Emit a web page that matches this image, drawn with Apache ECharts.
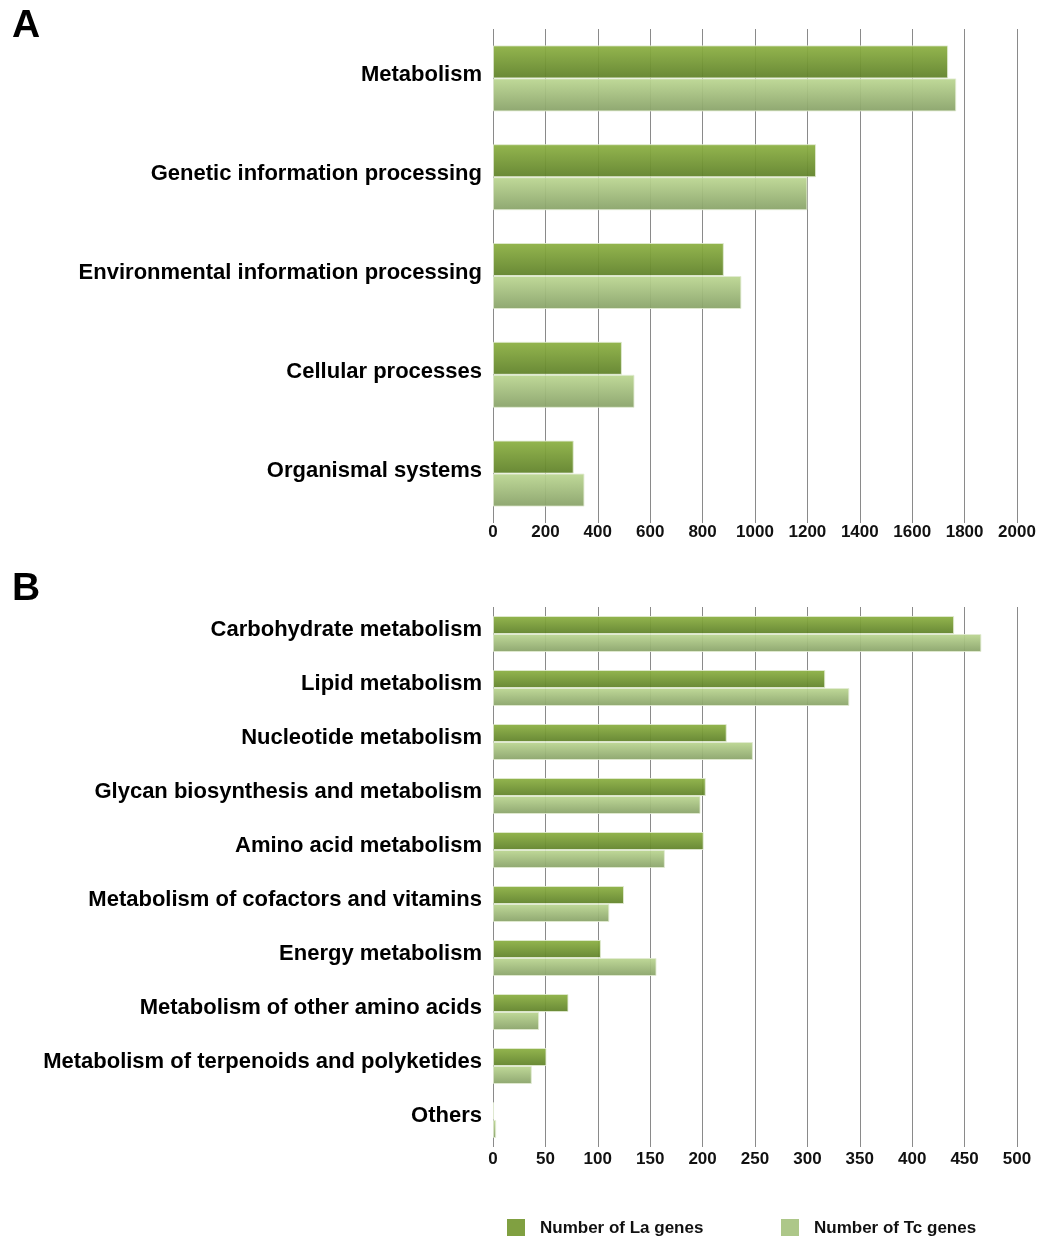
<!DOCTYPE html>
<html>
<head>
<meta charset="utf-8">
<script src="https://cdn.jsdelivr.net/npm/echarts@6/dist/echarts.min.js"></script>
<style>
  html, body { margin: 0; padding: 0; background: #fff; }
  #chart { width: 1053px; height: 1236px; }
</style>
</head>
<body>
<div id="chart"></div>
<script>
// panel A: KEGG top level
const catA = ['Metabolism', 'Genetic information processing', 'Environmental information processing',
    'Cellular processes', 'Organismal systems'];
const laA = [1737, 1233, 881, 492, 308];
const tcA = [1768, 1200, 948, 540, 349];
const ticksA = { min: 0, max: 2000, interval: 200 };

// panel B: metabolism breakdown
const catB = ['Carbohydrate metabolism', 'Lipid metabolism', 'Nucleotide metabolism',
    'Glycan biosynthesis and metabolism', 'Amino acid metabolism', 'Metabolism of cofactors and vitamins',
    'Energy metabolism', 'Metabolism of other amino acids', 'Metabolism of terpenoids and polyketides', 'Others'];
const laB = [440, 317, 223, 203, 201, 125, 103, 72, 51, 1];
const tcB = [466, 340, 248, 198, 164, 111, 156, 44, 37, 3];
const ticksB = { min: 0, max: 500, interval: 50 };

const LA = 'Number of La genes';
const TC = 'Number of Tc genes';
const FONT = 'Liberation Sans, Arial, Helvetica, sans-serif';

const grad = (top, bottom) => new echarts.graphic.LinearGradient(0, 0, 0, 1, [
    { offset: 0, color: top },
    { offset: 1, color: bottom }
]);

const laStyle = {
    color: grad('#8db143', '#5f8129'),
    borderColor: 'rgba(225,235,210,0.9)',
    borderWidth: 1,
    opacity: 0.94
};
const tcStyle = {
    color: grad('#bcd792', '#88a268'),
    borderColor: 'rgba(225,235,210,0.9)',
    borderWidth: 1,
    opacity: 0.94
};

const xAxisOpt = (idx, ticks, margin) => ({
    type: 'value',
    gridIndex: idx,
    min: ticks.min,
    max: ticks.max,
    interval: ticks.interval,
    axisLine: { show: false },
    axisTick: { show: false },
    axisLabel: {
        margin: margin,
        color: '#111',
        fontSize: 17,
        fontWeight: 'bold',
        fontFamily: FONT,
        formatter: (v) => String(v)
    },
    splitLine: { show: true, lineStyle: { color: '#8a8a8a', width: 1 } }
});

// labels sit a few px above the bar pair centre in the original,
// so an empty second line of height 2*lift pushes them up
const yAxisOpt = (idx, cats, lift) => ({
    type: 'category',
    gridIndex: idx,
    data: cats,
    inverse: true,
    axisLine: { show: false },
    axisTick: { show: false },
    axisLabel: {
        margin: 11,
        formatter: (v) => '{t|' + v + '}\n{s|}',
        rich: {
            t: { color: '#000', fontSize: 22, fontWeight: 'bold', fontFamily: FONT, lineHeight: 24 },
            s: { lineHeight: lift * 2, height: lift * 2, fontSize: 1 }
        }
    }
});

const chart = echarts.init(document.getElementById('chart'));
chart.setOption({
    animation: false,
    backgroundColor: '#fff',
    graphic: [
        { type: 'text', x: 12, y: 26, style: { text: 'A', font: 'bold 39px ' + FONT, fill: '#000', verticalAlign: 'middle' } },
        { type: 'text', x: 12, y: 589, style: { text: 'B', font: 'bold 39px ' + FONT, fill: '#000', verticalAlign: 'middle' } }
    ],
    legend: [
        {
            data: [{ name: LA, itemStyle: { color: '#789a35', borderWidth: 0 } }],
            left: 507, top: 1219, padding: 0,
            itemWidth: 18, itemHeight: 18, icon: 'rect',
            textStyle: { fontSize: 17, fontWeight: 'bold', color: '#111', fontFamily: FONT, padding: [0, 0, 0, 10] }
        },
        {
            data: [{ name: TC, itemStyle: { color: '#a8c482', borderWidth: 0 } }],
            left: 781, top: 1219, padding: 0,
            itemWidth: 18, itemHeight: 18, icon: 'rect',
            textStyle: { fontSize: 17, fontWeight: 'bold', color: '#111', fontFamily: FONT, padding: [0, 0, 0, 10] }
        }
    ],
    grid: [
        { left: 493, right: 36, top: 29, height: 494 },
        { left: 493, right: 36, top: 607, height: 540 }
    ],
    xAxis: [xAxisOpt(0, ticksA, 1), xAxisOpt(1, ticksB, 4)],
    yAxis: [yAxisOpt(0, catA, 3), yAxisOpt(1, catB, 4)],
    series: [
        { name: LA, type: 'bar', xAxisIndex: 0, yAxisIndex: 0, data: laA, barWidth: 33, barGap: '0%', itemStyle: laStyle },
        { name: TC, type: 'bar', xAxisIndex: 0, yAxisIndex: 0, data: tcA, barWidth: 33, barGap: '0%', itemStyle: tcStyle },
        { name: LA, type: 'bar', xAxisIndex: 1, yAxisIndex: 1, data: laB, barWidth: 18, barGap: '0%', itemStyle: laStyle },
        { name: TC, type: 'bar', xAxisIndex: 1, yAxisIndex: 1, data: tcB, barWidth: 18, barGap: '0%', itemStyle: tcStyle }
    ]
});
</script>
</body>
</html>
